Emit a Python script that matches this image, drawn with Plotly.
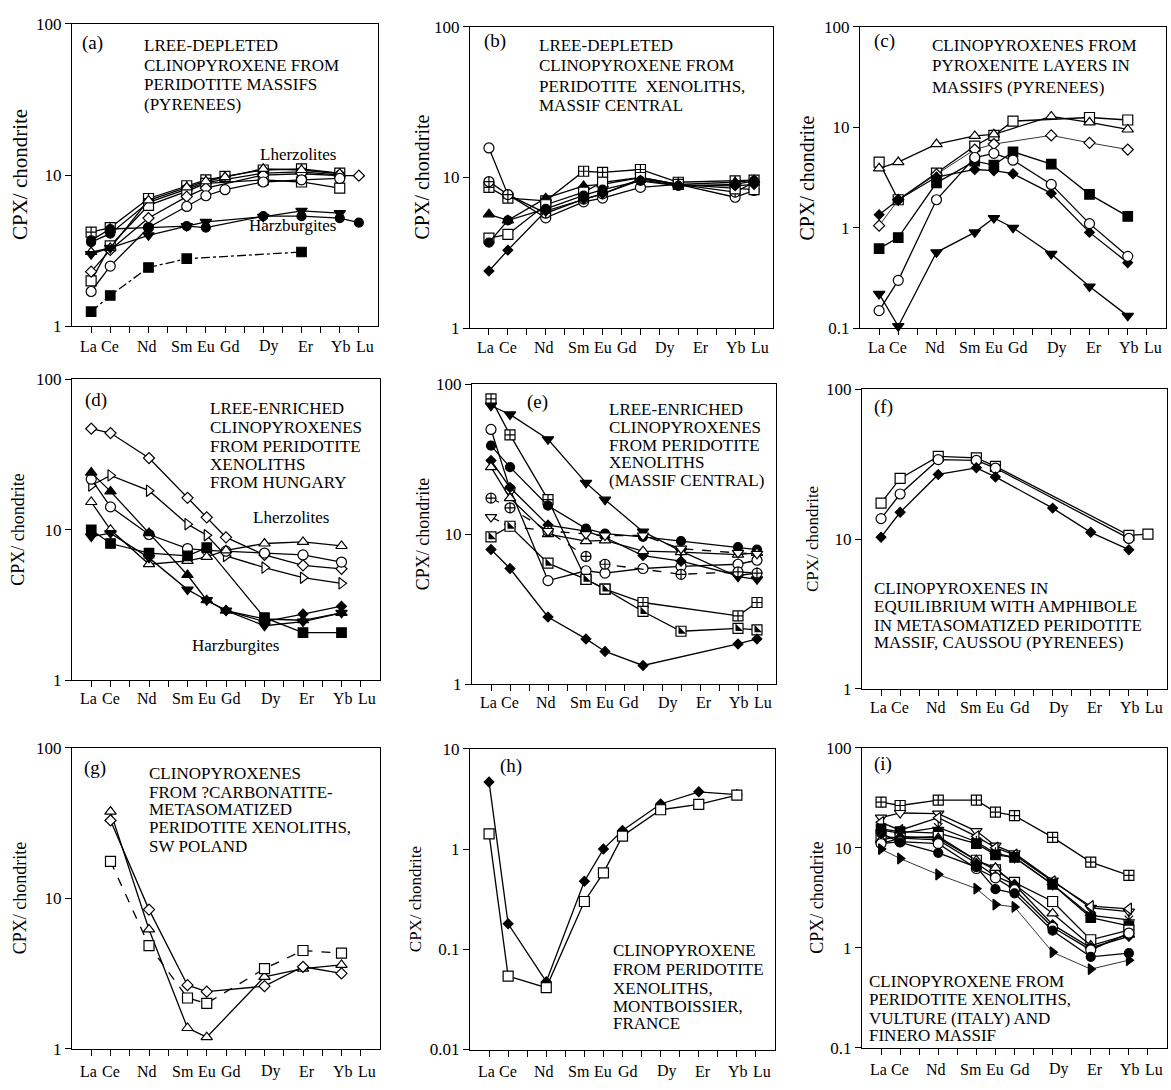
import plotly.graph_objects as go

W, H = 1171, 1090
FONT = "Liberation Serif"

REE = ["La", "Ce", "Pr", "Nd", "Pm", "Sm", "Eu", "Gd", "Tb", "Dy", "Ho", "Er", "Tm", "Yb", "Lu"]
REE_LABELS = ["La", "Ce", "Nd", "Sm", "Eu", "Gd", "Dy", "Er", "Yb", "Lu"]

# ---------------- (a) ----------------
a_elements = ["La", "Ce", "Nd", "Sm", "Eu", "Gd", "Dy", "Er", "Yb", "Lu"]
a_lhz_sqcross = [4.2, 4.5, 7.0, 8.5, 9.3, 9.8, 10.8, 11.0, 10.3, None]
a_lhz_circfill = [3.6, 4.1, 6.6, 8.1, 8.9, None, 10.3, 10.5, 10.0, None]
a_lhz_square = [2.0, 3.4, 6.3, 7.8, 8.8, None, 9.3, 9.0, 8.2, None]
a_lhz_diamond = [2.3, 3.2, 5.2, 7.2, 8.2, None, 10.0, 10.2, 9.9, 9.9]
a_lhz_triangle = [3.1, 3.3, 6.8, 8.3, 9.1, 9.7, 11.0, 10.8, 10.2, None]
a_lhz_circle = [1.7, 2.5, 4.5, 6.2, 7.3, 8.0, 9.0, 9.3, 9.5, None]
a_hzb_circfill = [3.7, 4.4, 4.5, 4.6, 4.5, None, 5.35, 5.35, 5.2, 4.85]
a_hzb_tridown = [3.0, 3.3, 4.0, 4.6, 4.9, None, 5.3, 5.8, 5.6, None]
a_hzb_sqfill = [1.25, 1.6, 2.45, 2.8, None, None, None, 3.1, None, None]

# ---------------- (b) ----------------
b_elements = ["La", "Ce", "Nd", "Sm", "Eu", "Tb", "Ho", "Yb", "Lu"]
b_circle = [15.7, 7.7, 5.4, 6.9, 7.3, 8.6, 9.0, 7.4, 8.2]
b_sqcross = [8.6, 7.3, 7.0, 11.0, 10.8, 11.3, 9.3, 9.5, 9.6]
b_circcross = [9.4, 7.7, 5.8, 7.2, 7.8, 9.8, 9.0, 8.0, 9.3]
b_trifill = [5.7, 5.2, 7.3, 8.8, 9.0, 10.0, 9.0, 9.3, 9.6]
b_square = [3.96, 4.2, 6.6, 8.0, 9.3, 10.0, 9.0, 8.4, 8.3]
b_circfill = [3.7, 5.2, 6.2, 7.6, 8.3, 9.5, 8.8, 9.0, 9.5]
b_diafill = [2.4, 3.3, 6.0, 7.2, 7.8, 9.6, 8.9, 8.8, 9.0]

# ---------------- (c) ----------------
c_elements = ["La", "Ce", "Nd", "Sm", "Eu", "Gd", "Dy", "Er", "Yb"]
c_square = [4.5, 1.9, 3.5, 6.5, 8.3, 11.5, None, 12.5, 11.8]
c_triangle = [3.9, 4.5, 6.8, 8.2, 8.5, None, 12.8, 11.2, 9.5]
c_diamond = [1.05, 1.9, 3.4, 6.0, 6.8, None, 8.3, 7.0, 6.0]
c_diafill = [1.35, 1.9, 3.2, 3.8, 3.7, 3.45, 2.2, 0.9, 0.45]
c_sqfill = [0.62, 0.8, 2.8, 4.6, 4.2, 5.7, 4.3, 2.15, 1.3]
c_circle = [0.15, 0.3, 1.9, 5.0, 5.5, 4.7, 2.7, 1.1, 0.52]
c_tridown = [0.22, 0.105, 0.57, 0.9, 1.25, 1.0, 0.55, 0.26, 0.133]

# ---------------- (d) ----------------
d_elements = ["La", "Ce", "Nd", "Sm", "Eu", "Gd", "Dy", "Er", "Yb"]
d_diamond = [47, 44, 30, 16.3, 12.1, 8.9, 6.8, 5.8, 5.5]
d_triright = [19.7, 23, 18.2, 10.9, 9.2, 6.7, 5.6, 4.8, 4.4]
d_circle = [21.7, 14.2, 9.3, 7.5, 7.3, 7.2, 7.0, 6.8, 6.1]
d_triangle = [15.3, 10, 5.9, 6.2, 6.6, 7.3, 8.1, 8.3, 7.8]
d_trifill = [24, 18, 9.5, 5.0, 3.4, 2.9, 2.55, 2.5, 2.8]
d_tridown = [9.0, 9.5, 6.5, 4.0, 3.4, 2.9, 2.3, 2.45, 2.8]
d_sqfill = [10, 8.1, 7.0, 6.7, 7.6, None, 2.6, 2.07, 2.07]
d_diafill = [None, None, None, None, None, 2.9, 2.45, 2.75, 3.1]

# ---------------- (e) ----------------
e_elements = ["La", "Ce", "Nd", "Sm", "Eu", "Tb", "Ho", "Yb", "Lu"]
e_sqcross = [80, 46, 17, 5.0, 4.3, 3.5, None, 2.85, 3.5]
e_tridown = [72, 63, 43, 22, 17, 10.4, 7.7, 5.2, 5.0]
e_circle = [50, 20, 4.9, 5.7, 5.5, 5.9, 6.1, 6.3, 6.7]
e_circfill = [39, 28, 15.5, 10.9, 10.1, 9.6, 9.0, 8.2, 7.9]
e_diafill_hi = [31, 20.5, 11.5, 10.5, 9.5, 7.2, 6.6, 5.3, 5.5]
e_triangle = [28, 17.4, 10, 9.0, 9.1, 7.7, 7.6, 7.3, 7.5]
e_circcross = [17.4, 15, 10.5, 7.1, 6.3, None, 5.4, 5.6, 5.5]
e_tridown_open = [13, 11.3, 10.5, 10, 9.8, 9.8, 8.0, 7.5, 7.4]
e_sqhalf = [9.6, 11.3, 6.4, 5.0, 4.3, 3.05, 2.25, 2.35, 2.3]
e_diafill_lo = [7.9, 5.9, 2.8, 2.0, 1.65, 1.33, None, 1.85, 2.0]

# ---------------- (f) ----------------
f_elements = ["La", "Ce", "Nd", "Sm", "Eu", "Dy", "Er", "Yb", "Lu"]
f_square = [17.4, 25.4, 35.6, 34.8, 30.6, None, None, 10.6, 10.8]
f_circle = [13.7, 20, 33.9, 33.5, 29.8, None, None, 10.1, None]
f_diafill = [10.3, 15.1, 27, 29.9, 26, 16.1, 11.1, 8.5, None]

# ---------------- (g) ----------------
g_elements = ["Ce", "Nd", "Sm", "Eu", "Dy", "Er", "Yb"]
g_triangle = [37.7, 6.2, 1.37, 1.19, 3.0, 3.4, 3.6]
g_diamond = [32.9, 8.4, 2.64, 2.39, 2.6, 3.5, 3.16]
g_square = [17.6, 4.84, 2.17, 2.0, 3.4, 4.49, 4.31]

# ---------------- (h) ----------------
h_elements = ["La", "Ce", "Nd", "Sm", "Eu", "Gd", "Dy", "Er", "Yb"]
h_diafill = [4.68, 0.18, 0.0475, 0.478, 1.0, 1.53, 2.82, 3.73, 3.5]
h_square = [1.42, 0.054, 0.0415, 0.3, 0.58, 1.35, 2.47, 2.8, 3.46]

# ---------------- (i) ----------------
i_elements = ["La", "Ce", "Nd", "Sm", "Eu", "Gd", "Dy", "Er", "Yb"]
i_sqcross = [28.6, 26.5, 30, 30, 22.8, 21, 12.7, 7.2, 5.3]
i_tridown_open = [20, 22.3, 22, 14.7, 10.5, 8.8, 4.7, 2.5, 2.3]
i_trileft_open = [18, 15, 20, 13, 10, 8.5, 4.6, 2.6, 2.45]
i_asterisk = [15, 14, 16, 11.5, 8.8, 8.0, 4.3, 2.1, 1.9]
i_sqfill = [15.5, 14.5, 14, 11, 8.5, 8.0, 4.3, 2.0, 1.65]
i_square = [13, 12.5, 13, 7.5, 6.0, 4.5, 2.9, 1.2, 1.5]
i_triangle = [12, 13, 12.5, 7.5, 6.3, 4.3, 2.2, 1.05, 1.35]
i_diafill = [11, 12.5, 12, 7.0, 5.2, 4.3, 1.7, 1.0, 1.3]
i_circle = [11, 11.5, 11, 6.2, 5.0, 3.8, 1.6, 0.95, 1.4]
i_circfill = [14, 11.3, 8.9, 6.4, 3.85, 3.5, 1.48, 0.81, 0.88]
i_trirfill = [9.7, 7.8, 5.4, 3.9, 2.7, 2.56, 0.9, 0.61, 0.75]

# ---------------- marker styles ----------------
SYM = {
    "sq_open": ("square", "white", 10),
    "sq_cross": ("square-cross", "white", 10),
    "sq_fill": ("square", "black", 9.5),
    "sq_half": ("square", "white", 10),
    "circ_open": ("circle", "white", 10),
    "circ_fill": ("circle", "black", 9),
    "circ_cross": ("circle-cross", "white", 10),
    "dia_open": ("diamond", "white", 8.5),
    "dia_fill": ("diamond", "black", 7.5),
    "tri_open": ("triangle-up", "white", 10),
    "tri_fill": ("triangle-up", "black", 10),
    "tridn_open": ("triangle-down", "white", 10),
    "tridn_fill": ("triangle-down", "black", 10),
    "trir_open": ("triangle-right", "white", 10),
    "trir_fill": ("triangle-right", "black", 9.5),
    "tril_open": ("triangle-left", "white", 10),
    "asterisk": ("asterisk", "black", 10),
}

# horizontal nudges (px) of the typeset element labels under each tick
LABEL_SHIFT = {"La": -3, "Ce": 0, "Nd": -2, "Sm": -5, "Eu": 0, "Gd": 5, "Dy": 6, "Er": 4, "Yb": 1, "Lu": 6}

# panel geometry in pixels: x0, x1, y0(top), y1(bottom); lab = label centre below axis
panels = [
    dict(box=(72, 378, 15, 323), lab=20, yr=(0, 2), elems=a_elements,
         series=[(a_lhz_sqcross, "sq_cross", "solid"), (a_lhz_circfill, "circ_fill", "solid"),
                 (a_lhz_square, "sq_open", "solid"), (a_lhz_diamond, "dia_open", "solid"),
                 (a_lhz_triangle, "tri_open", "solid"), (a_lhz_circle, "circ_open", "solid"),
                 (a_hzb_circfill, "circ_fill", "solid"), (a_hzb_tridown, "tridn_fill", "solid"),
                 (a_hzb_sqfill, "sq_fill", "dashdot")],
         tag="(a)", tagpos=(80, 35), lines=["LREE-DEPLETED", "CLINOPYROXENE FROM", "PERIDOTITE MASSIFS", "(PYRENEES)"],
         linex=142, liney=[37, 57, 77, 97], ytitle=(20, 21)),
    dict(box=(470, 773, 18, 325), lab=20, yr=(0, 2), elems=b_elements,
         series=[(b_circle, "circ_open", "solid"), (b_sqcross, "sq_cross", "solid"),
                 (b_circcross, "circ_cross", "solid"), (b_trifill, "tri_fill", "solid"),
                 (b_square, "sq_open", "solid"), (b_circfill, "circ_fill", "solid"),
                 (b_diafill, "dia_fill", "solid")],
         tag="(b)", tagpos=(482, 33), lines=["LREE-DEPLETED", "CLINOPYROXENE FROM", "PERIDOTITE  XENOLITHS,", "MASSIF CENTRAL"],
         linex=537, liney=[37, 58, 79, 98], ytitle=(422, 20)),
    dict(box=(860, 1166, 18, 325), lab=20, yr=(-1, 2), elems=c_elements,
         series=[(c_square, "sq_open", "solid"), (c_triangle, "tri_open", "solid"),
                 (c_diamond, "dia_open", "thin"), (c_diafill, "dia_fill", "solid"),
                 (c_sqfill, "sq_fill", "solid"), (c_circle, "circ_open", "solid"),
                 (c_tridown, "tridn_fill", "solid")],
         tag="(c)", tagpos=(872, 33), lines=["CLINOPYROXENES FROM", "PYROXENITE LAYERS IN", "MASSIFS (PYRENEES)"],
         linex=930, liney=[37, 58, 80], ytitle=(807, 20)),
    dict(box=(72, 380, 377, 683), lab=19, yr=(0, 2), elems=d_elements,
         series=[(d_diamond, "dia_open", "solid"), (d_triright, "trir_open", "solid"),
                 (d_circle, "circ_open", "solid"), (d_triangle, "tri_open", "solid"),
                 (d_trifill, "tri_fill", "solid"), (d_tridown, "tridn_fill", "solid"),
                 (d_sqfill, "sq_fill", "solid"), (d_diafill, "dia_fill", "solid")],
         tag="(d)", tagpos=(83, 398), lines=["LREE-ENRICHED", "CLINOPYROXENES", "FROM PERIDOTITE", "XENOLITHS", "FROM HUNGARY"],
         linex=208, liney=[407, 426, 445, 464, 482], ytitle=(18, 18)),
    dict(box=(472, 776, 382, 687), lab=19, yr=(0, 2), elems=e_elements,
         series=[(e_sqcross, "sq_cross", "solid"), (e_tridown, "tridn_fill", "solid"),
                 (e_circle, "circ_open", "solid"), (e_circfill, "circ_fill", "solid"),
                 (e_diafill_hi, "dia_fill", "solid"), (e_triangle, "tri_open", "solid"),
                 (e_circcross, "circ_cross", "dash"), (e_tridown_open, "tridn_open", "dash"),
                 (e_sqhalf, "sq_half", "solid"), (e_diafill_lo, "dia_fill", "solid")],
         tag="(e)", tagpos=(525, 400), lines=["LREE-ENRICHED", "CLINOPYROXENES", "FROM PERIDOTITE", "XENOLITHS", "(MASSIF CENTRAL)"],
         linex=607, liney=[408, 426, 444, 462, 480], ytitle=(423, 18)),
    dict(box=(862, 1167, 387, 692), lab=19, yr=(0, 2), elems=f_elements,
         series=[(f_square, "sq_open", "solid"), (f_circle, "circ_open", "solid"),
                 (f_diafill, "dia_fill", "solid")],
         tag="(f)", tagpos=(872, 405), lines=["CLINOPYROXENES IN", "EQUILIBRIUM WITH AMPHIBOLE", "IN METASOMATIZED PERIDOTITE", "MASSIF, CAUSSOU (PYRENEES)"],
         linex=872, liney=[590, 608, 627, 645], ytitle=(812, 17)),
    dict(box=(72, 380, 752, 1058), lab=23, yr=(0, 2), elems=g_elements,
         series=[(g_triangle, "tri_open", "solid"), (g_diamond, "dia_open", "solid"),
                 (g_square, "sq_open", "dash")],
         tag="(g)", tagpos=(82, 772), lines=["CLINOPYROXENES", "FROM ?CARBONATITE-", "METASOMATIZED", "PERIDOTITE XENOLITHS,", "SW POLAND"],
         linex=147, liney=[778, 797, 815, 833, 852], ytitle=(20, 18)),
    dict(box=(470, 775, 753, 1059), lab=22, yr=(-2, 1), elems=h_elements,
         series=[(h_diafill, "dia_fill", "solid"), (h_square, "sq_open", "solid")],
         tag="(h)", tagpos=(498, 770), lines=["CLINOPYROXENE", "FROM PERIDOTITE", "XENOLITHS,", "MONTBOISSIER,", "FRANCE"],
         linex=611, liney=[958, 978, 997, 1015, 1032], ytitle=(415, 17)),
    dict(box=(862, 1167, 752, 1057), lab=22, yr=(-1, 2), elems=i_elements,
         series=[(i_sqcross, "sq_cross", "solid"), (i_tridown_open, "tridn_open", "solid"),
                 (i_trileft_open, "tril_open", "solid"), (i_asterisk, "asterisk", "solid"),
                 (i_sqfill, "sq_fill", "solid"), (i_square, "sq_open", "solid"),
                 (i_triangle, "tri_open", "solid"), (i_diafill, "dia_fill", "solid"),
                 (i_circle, "circ_open", "solid"), (i_circfill, "circ_fill", "solid"),
                 (i_trirfill, "trir_fill", "thin")],
         tag="(i)", tagpos=(872, 768), lines=["CLINOPYROXENE FROM", "PERIDOTITE XENOLITHS,", "VULTURE (ITALY) AND", "FINERO MASSIF"],
         linex=867, liney=[990, 1008, 1027, 1045], ytitle=(817, 18)),
]

fig = go.Figure()
layout = dict(width=W, height=H, margin=dict(l=0, r=0, t=0, b=0), paper_bgcolor="white",
              plot_bgcolor="white", showlegend=False, font=dict(family=FONT, color="black"))
annotations = []


def px(x):
    return x / W


def py(y):
    return 1 - y / H


for k, p in enumerate(panels, start=1):
    sx = "" if k == 1 else str(k)
    x0, x1, y0, y1 = p["box"]
    lo, hi = p["yr"]
    yt = [10 ** e for e in range(lo, hi + 1)]
    ytt = [("%g" % v) for v in yt]
    common = dict(showline=True, linecolor="black", linewidth=1, mirror=True, ticks="outside",
                  ticklen=6, tickwidth=1, tickcolor="black", showgrid=False, zeroline=False,
                  tickfont=dict(family=FONT, size=17, color="black"))
    layout["xaxis" + sx] = dict(domain=[px(x0), px(x1)], range=[-1, 15], tickvals=list(range(15)),
                                showticklabels=False, anchor="y" + sx, **common)
    layout["yaxis" + sx] = dict(domain=[py(y1), py(y0)], type="log", range=[lo, hi], tickvals=yt,
                                ticktext=ytt, anchor="x" + sx, **common)
    # element labels under the x axis
    for lbl in REE_LABELS:
        annotations.append(dict(text=lbl, x=REE.index(lbl), xref="x" + sx, y=py(y1 + p["lab"]),
                                yref="paper", xanchor="center", yanchor="middle", xshift=LABEL_SHIFT[lbl],
                                showarrow=False, borderpad=0, font=dict(family=FONT, size=16, color="black")))
    xs = [REE.index(e) for e in p["elems"]]
    for vals, sym, dash in p["series"]:
        symbol, fill, size = SYM[sym]
        lw = 0.8 if dash == "thin" else 1.3
        d = "solid" if dash == "thin" else dash
        fig.add_trace(go.Scatter(
            x=xs, y=vals, mode="lines+markers", connectgaps=True, cliponaxis=False,
            line=dict(color="black", width=lw, dash=d),
            marker=dict(symbol=symbol, color=fill, size=size, line=dict(color="black", width=1.2)),
            xaxis="x" + sx, yaxis="y" + sx, hoverinfo="skip"))
        if sym == "sq_half":
            fig.add_trace(go.Scatter(
                x=xs, y=vals, mode="markers", cliponaxis=False,
                marker=dict(symbol="triangle-sw", color="black", size=8.3, line=dict(width=0)),
                xaxis="x" + sx, yaxis="y" + sx, hoverinfo="skip"))
    annotations.append(dict(text=p["tag"], x=px(p["tagpos"][0]), y=py(p["tagpos"][1]), xref="paper",
                            yref="paper", xanchor="left", yanchor="middle", showarrow=False,
                            font=dict(family=FONT, size=19, color="black")))
    for t, yy in zip(p["lines"], p["liney"]):
        annotations.append(dict(text=t, x=px(p["linex"]), y=py(yy), xref="paper", yref="paper",
                                xanchor="left", yanchor="middle", showarrow=False,
                                font=dict(family=FONT, size=17, color="black")))
    tx, tsize = p["ytitle"]
    annotations.append(dict(text="CPX/ chondrite", x=px(tx), y=py((y0 + y1) / 2), xref="paper",
                            yref="paper", xanchor="center", yanchor="middle", textangle=-90,
                            showarrow=False, font=dict(family=FONT, size=tsize, color="black")))

# group labels
for txt, xx, yy in [("Lherzolites", 298, 148), ("Harzburgites", 293, 220),
                    ("Lherzolites", 291, 518), ("Harzburgites", 236, 648)]:
    annotations.append(dict(text=txt, x=px(xx), y=py(yy), xref="paper", yref="paper",
                            xanchor="center", yanchor="middle", showarrow=False,
                            font=dict(family=FONT, size=17, color="black")))

layout["annotations"] = annotations
fig.update_layout(**layout)
fig.write_html("out.html")
